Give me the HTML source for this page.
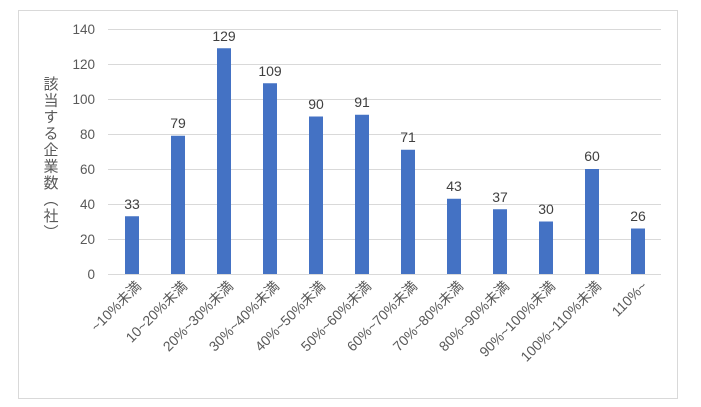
<!DOCTYPE html>
<html><head><meta charset="utf-8"><style>
body{margin:0;background:#fff;}
svg{display:block;font-family:"Liberation Sans","Noto Sans CJK JP",sans-serif;}
</style></head><body>
<svg width="701" height="407" viewBox="0 0 701 407">
<rect x="18.5" y="10.5" width="659" height="388" fill="#fff" stroke="#d9d9d9"/>
<g stroke="#d9d9d9" stroke-width="1">
<line x1="108" x2="661" y1="29.5" y2="29.5"/>
<line x1="108" x2="661" y1="64.5" y2="64.5"/>
<line x1="108" x2="661" y1="99.5" y2="99.5"/>
<line x1="108" x2="661" y1="134.5" y2="134.5"/>
<line x1="108" x2="661" y1="169.5" y2="169.5"/>
<line x1="108" x2="661" y1="204.5" y2="204.5"/>
<line x1="108" x2="661" y1="239.5" y2="239.5"/>
<line x1="108" x2="661" y1="274.5" y2="274.5"/>
</g>
<g font-size="13.5" fill="#595959" text-anchor="end">
<text x="95" y="34">140</text><text x="95" y="69">120</text><text x="95" y="104">100</text>
<text x="95" y="139">80</text><text x="95" y="174">60</text><text x="95" y="209">40</text>
<text x="95" y="244">20</text><text x="95" y="279">0</text>
</g>
<text x="50" y="76" font-size="15" letter-spacing="1.5" fill="#595959" style="writing-mode:vertical-rl">該当する企業数（社）</text>
<g fill="#4472c4">
<rect x="125" y="216.25" width="14" height="57.75"/>
<rect x="171" y="135.75" width="14" height="138.25"/>
<rect x="217" y="48.25" width="14" height="225.75"/>
<rect x="263" y="83.25" width="14" height="190.75"/>
<rect x="309" y="116.5" width="14" height="157.5"/>
<rect x="355" y="114.75" width="14" height="159.25"/>
<rect x="401" y="149.75" width="14" height="124.25"/>
<rect x="447" y="198.75" width="14" height="75.25"/>
<rect x="493" y="209.25" width="14" height="64.75"/>
<rect x="539" y="221.5" width="14" height="52.5"/>
<rect x="585" y="169" width="14" height="105"/>
<rect x="631" y="228.5" width="14" height="45.5"/>
</g>
<g font-size="14" fill="#404040" text-anchor="middle">
<text x="132" y="209">33</text><text x="178" y="128">79</text><text x="224" y="41">129</text>
<text x="270" y="76">109</text><text x="316" y="109">90</text><text x="362" y="107">91</text>
<text x="408" y="142">71</text><text x="454" y="191">43</text><text x="500" y="202">37</text>
<text x="546" y="214">30</text><text x="592" y="161">60</text><text x="638" y="221">26</text>
</g>
<g font-size="14" fill="#595959" text-anchor="end">
<text transform="translate(142,287) rotate(-45)">~10%未満</text>
<text transform="translate(188,287) rotate(-45)">10~20%未満</text>
<text transform="translate(234,287) rotate(-45)">20%~30%未満</text>
<text transform="translate(280,287) rotate(-45)">30%~40%未満</text>
<text transform="translate(326,287) rotate(-45)">40%~50%未満</text>
<text transform="translate(372,287) rotate(-45)">50%~60%未満</text>
<text transform="translate(418,287) rotate(-45)">60%~70%未満</text>
<text transform="translate(464,287) rotate(-45)">70%~80%未満</text>
<text transform="translate(510,287) rotate(-45)">80%~90%未満</text>
<text transform="translate(556,287) rotate(-45)">90%~100%未満</text>
<text transform="translate(602,287) rotate(-45)">100%~110%未満</text>
<text transform="translate(648,287) rotate(-45)">110%~</text>
</g>
</svg>
</body></html>
